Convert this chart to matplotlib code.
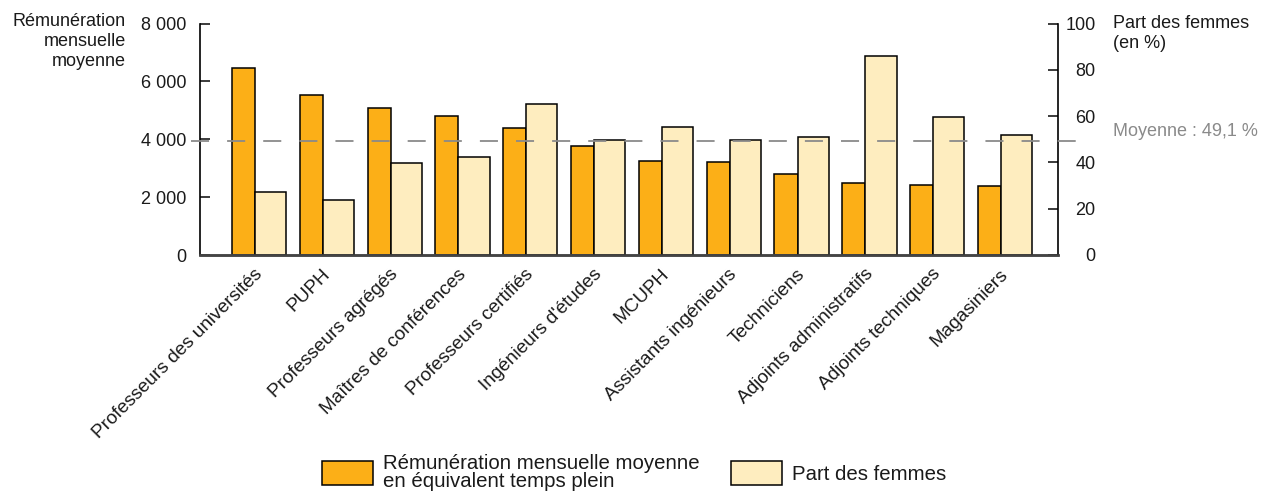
import numpy as np
import matplotlib
matplotlib.use("Agg")
import matplotlib.pyplot as plt
from matplotlib.patches import Patch

plt.rcParams['font.family'] = ['Liberation Sans', 'DejaVu Sans']

categories = ["Professeurs des universités", "PUPH", "Professeurs agrégés",
              "Maîtres de conférences", "Professeurs certifiés", "Ingénieurs d'études",
              "MCUPH", "Assistants ingénieurs", "Techniciens", "Adjoints administratifs",
              "Adjoints techniques", "Magasiniers"]
remuneration = [6470, 5540, 5070, 4790, 4390, 3780, 3260, 3200, 2810, 2500, 2410, 2385]
part_femmes = [27.3, 23.6, 39.9, 42.5, 65.2, 49.8, 55.3, 49.8, 50.8, 86.1, 59.6, 51.8]
moyenne_femmes = 49.1

left_ticks = [0, 2000, 4000, 6000, 8000]
left_ticklabels = ["0", "2 000", "4 000", "6 000", "8 000"]
right_ticks = [0, 20, 40, 60, 80, 100]

orange = "#FCAF17"
light = "#FEEDBF"
fs = 13

W, H = 1270, 492
fig = plt.figure(figsize=(W / 100, H / 100), dpi=100)
ax = fig.add_axes([200 / W, 1 - 255 / H, 858 / W, 231.5 / H])
ax2 = ax.twinx()

x = np.arange(len(categories))
w1, w2 = 0.34, 0.46
ax.bar(x - w1 / 2, remuneration, width=w1, color=orange, edgecolor="black", linewidth=1.1)
ax2.bar(x + w2 / 2, part_femmes, width=w2, color=light, edgecolor="black", linewidth=1.1)

ax.set_xlim(-0.81, 11.84)
ax.set_ylim(0, 8000)
ax2.set_ylim(0, 100)

# mean line, running a bit past both axes
ax2.plot([-0.94, 12.17], [moyenne_femmes, moyenne_femmes], color="#8a8a8a",
         linewidth=1.3, dashes=(10, 10), clip_on=False, zorder=5)

for a in (ax, ax2):
    a.spines['top'].set_visible(False)
    a.spines['bottom'].set_color("#444444")
    a.spines['bottom'].set_linewidth(1.8)
ax.spines['left'].set_linewidth(1.2)
ax2.spines['right'].set_linewidth(1.2)
ax.spines['right'].set_visible(False)
ax2.spines['left'].set_visible(False)

ax.set_yticks(left_ticks)
ax.set_yticklabels(left_ticklabels)
ax.tick_params(axis='y', direction='in', length=7, width=1.2, pad=10,
               labelsize=fs, colors="#1a1a1a")
ax2.set_yticks(right_ticks)
ax2.tick_params(axis='y', direction='in', length=7, width=1.2, pad=27,
                labelsize=fs, colors="#1a1a1a")
for t in ax2.get_yticklabels():
    t.set_horizontalalignment('right')

ax.set_xticks(x + 0.07)
ax.set_xticklabels(categories, rotation=45, ha='right', va='center',
                   rotation_mode='anchor', fontsize=13.7, color="#1a1a1a")
ax.tick_params(axis='x', length=0, pad=12)

fig.text(126 / W, 1 - 13 / H, "Rémunération\nmensuelle\nmoyenne", ha='right', va='top',
         fontsize=fs, linespacing=1.25, color="#1a1a1a")
fig.text(1113 / W, 1 - 15 / H, "Part des femmes\n(en %)", ha='left', va='top',
         fontsize=fs, linespacing=1.2, color="#1a1a1a")
fig.text(1113 / W, 1 - 131 / H, "Moyenne : 49,1 %", ha='left', va='center',
         fontsize=fs, color="#8a8a8a")

handles = [Patch(facecolor=orange, edgecolor="black", linewidth=1.1),
           Patch(facecolor=light, edgecolor="black", linewidth=1.1)]
labels = ["Rémunération mensuelle moyenne\nen équivalent temps plein", "Part des femmes"]
leg = fig.legend(handles, labels, loc='upper left', bbox_to_anchor=(322 / W, 1 - 454 / H),
                 ncol=2, frameon=False, fontsize=14.7, handlelength=2.5, handleheight=1.45,
                 handletextpad=0.5, columnspacing=1.5, borderpad=0, borderaxespad=0,
                 labelspacing=0.2)
for t in leg.get_texts():
    t.set_linespacing(0.95)
    t.set_color("#1a1a1a")

fig.savefig("out.png", dpi=100)
